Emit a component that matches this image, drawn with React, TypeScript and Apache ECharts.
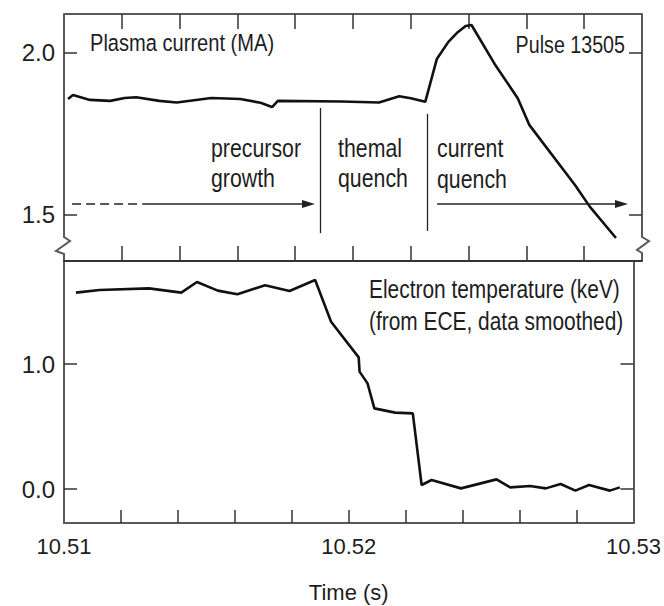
import React, { useEffect, useRef } from "react";
import * as echarts from "echarts";

// Axis ticks and labels
const timeTicks = [10.512, 10.514, 10.516, 10.518, 10.52, 10.522, 10.524, 10.526, 10.528];
const timeLabels = [10.51, 10.52, 10.53];
const currentTicks = [1.5, 2.0];
const tempTicks = [0.0, 1.0];

// Plasma current (MA) against time (s)
const currentTime = [
  10.51014, 10.51031, 10.5109, 10.5116, 10.5121, 10.5125, 10.5133, 10.5139, 10.5151, 10.5161,
  10.5168, 10.5172, 10.5174, 10.5196, 10.5209, 10.5216, 10.522, 10.5225, 10.5229, 10.5233,
  10.5236, 10.5239, 10.5241, 10.5249, 10.5257, 10.5261, 10.5277, 10.5282, 10.5291,
];
const currentMA = [
  1.858, 1.87, 1.855, 1.852, 1.861, 1.863, 1.852, 1.847, 1.861, 1.858,
  1.846, 1.833, 1.852, 1.85, 1.847, 1.866, 1.86, 1.849, 1.981, 2.034,
  2.062, 2.083, 2.086, 1.966, 1.86, 1.778, 1.59, 1.525, 1.429,
];

// Electron temperature (keV) against time (s)
const tempTime = [
  10.51042, 10.51125, 10.51298, 10.51412, 10.51467, 10.5154, 10.51609, 10.51706, 10.51792, 10.51882,
  10.51938, 10.52035, 10.52038, 10.52066, 10.5209, 10.52163, 10.52225, 10.52256, 10.52291, 10.52394,
  10.52519, 10.52567, 10.52637, 10.52692, 10.52744, 10.52796, 10.52844, 10.52917, 10.52952,
];
const tempKeV = [
  1.571, 1.592, 1.605, 1.571, 1.656, 1.587, 1.558, 1.63, 1.584, 1.672,
  1.338, 1.053, 0.939, 0.845, 0.645, 0.611, 0.605, 0.032, 0.072, 0.005,
  0.077, 0.013, 0.024, 0.005, 0.04, -0.013, 0.032, -0.013, 0.013,
];

// Disruption phases (time in s, current-axis level in MA)
const precursorDashed = [10.51028, 10.51273];
const precursorArrow = [10.51273, 10.51846];
const currentQuenchArrow = [10.52291, 10.52929];
const arrowLevel = 1.534;
const phaseBoundaries = [10.51888, 10.52257];
const boundaryTop = [1.83, 1.812];
const boundaryBottom = [1.444, 1.451];

const FONT = "'Liberation Sans', Arial, Helvetica, sans-serif";
const NARROW = 0.82; // horizontal squeeze giving a narrow Helvetica look
const INK = "#1e1e1e";
const AXIS = "#5a5a5a";

const tickStyle = { color: "#333", width: 1.5 };

function App() {
  const ref = useRef<HTMLDivElement>(null);

  useEffect(() => {
    if (!ref.current) return;
    const chart = echarts.init(ref.current, undefined, { renderer: "svg" });

    const thin = { color: "#222", width: 1.3, type: "solid" as const };
    const arrowLine = { color: "#222", width: 1.5, type: "solid" as const };

    const xBase = {
      type: "value" as const,
      min: 10.51,
      max: 10.53,
      splitLine: { show: false },
    };

    const text = (t: string, x: number, y: number, size: number, align = "left") => ({
      type: "text",
      silent: true,
      x,
      y,
      scaleX: NARROW,
      style: {
        text: t,
        x: 0,
        y: 0,
        fill: INK,
        fontSize: size,
        fontFamily: FONT,
        align,
        verticalAlign: "middle",
      },
    });

    const option: any = {
      animation: false,
      backgroundColor: "#fff",
      grid: [
        { left: 64, top: 14, width: 578, height: 247 },
        { left: 64, top: 261, width: 578, height: 262 },
      ],
      xAxis: [
        {
          ...xBase,
          gridIndex: 0,
          position: "bottom",
          axisLine: { show: true, onZero: false, lineStyle: { color: "#333", width: 2 } },
          axisTick: { show: true, inside: true, length: 15, customValues: timeTicks, lineStyle: tickStyle },
          axisLabel: { show: false },
        },
        {
          ...xBase,
          gridIndex: 0,
          position: "top",
          axisLine: { show: true, onZero: false, lineStyle: { color: AXIS, width: 2 } },
          axisTick: { show: true, inside: true, length: 15, customValues: timeTicks, lineStyle: tickStyle },
          axisLabel: { show: false },
        },
        {
          ...xBase,
          gridIndex: 1,
          position: "top",
          axisLine: { show: true, onZero: false, lineStyle: { color: "#333", width: 2 } },
          axisTick: { show: false },
          axisLabel: { show: false },
        },
        {
          ...xBase,
          gridIndex: 1,
          position: "bottom",
          axisLine: { show: true, onZero: false, lineStyle: { color: AXIS, width: 2 } },
          axisTick: { show: true, inside: true, length: 13, customValues: timeTicks, lineStyle: tickStyle },
          axisLabel: {
            show: true,
            customValues: timeLabels,
            formatter: (v: number) => v.toFixed(2),
            color: INK,
            fontSize: 22,
            fontFamily: FONT,
            margin: 12,
          },
          name: "Time (s)",
          nameLocation: "middle",
          nameGap: 58,
          nameTextStyle: { color: INK, fontSize: 22, fontFamily: FONT },
        },
      ],
      yAxis: [
        {
          type: "value",
          gridIndex: 0,
          position: "left",
          min: 1.358,
          max: 2.12,
          splitLine: { show: false },
          axisLine: { show: false, onZero: false },
          axisTick: { show: true, inside: true, length: 13, customValues: currentTicks, lineStyle: tickStyle },
          axisLabel: {
            customValues: currentTicks,
            formatter: (v: number) => v.toFixed(1),
            color: INK,
            fontSize: 24,
            fontFamily: FONT,
            margin: 9,
          },
        },
        {
          type: "value",
          gridIndex: 0,
          position: "right",
          min: 1.358,
          max: 2.12,
          splitLine: { show: false },
          axisLine: { show: false, onZero: false },
          axisTick: { show: true, inside: true, length: 13, customValues: currentTicks, lineStyle: tickStyle },
          axisLabel: { show: false },
        },
        {
          type: "value",
          gridIndex: 1,
          position: "left",
          min: -0.272,
          max: 1.824,
          splitLine: { show: false },
          axisLine: { show: true, onZero: false, lineStyle: { color: AXIS, width: 2 } },
          axisTick: { show: true, inside: true, length: 13, customValues: tempTicks, lineStyle: tickStyle },
          axisLabel: {
            customValues: tempTicks,
            formatter: (v: number) => v.toFixed(1),
            color: INK,
            fontSize: 24,
            fontFamily: FONT,
            margin: 9,
          },
        },
        {
          type: "value",
          gridIndex: 1,
          position: "right",
          min: -0.272,
          max: 1.824,
          splitLine: { show: false },
          axisLine: { show: true, onZero: false, lineStyle: { color: AXIS, width: 2 } },
          axisTick: { show: true, inside: true, length: 13, customValues: tempTicks, lineStyle: tickStyle },
          axisLabel: { show: false },
        },
      ],
      series: [
        {
          name: "Plasma current",
          type: "line",
          xAxisIndex: 0,
          yAxisIndex: 0,
          data: currentTime.map((t, i) => [t, currentMA[i]]),
          symbol: "none",
          lineStyle: { color: "#111", width: 2.6 },
          markLine: {
            silent: true,
            symbol: ["none", "none"],
            label: { show: false },
            emphasis: { disabled: true },
            data: [
              [
                { coord: [precursorDashed[0], arrowLevel], lineStyle: { ...arrowLine, type: [9, 5] } },
                { coord: [precursorDashed[1], arrowLevel] },
              ],
              [
                { coord: [precursorArrow[0], arrowLevel], lineStyle: arrowLine },
                { coord: [precursorArrow[1], arrowLevel], symbol: "triangle", symbolSize: [8, 13] },
              ],
              [
                { coord: [currentQuenchArrow[0], arrowLevel], lineStyle: arrowLine },
                { coord: [currentQuenchArrow[1], arrowLevel], symbol: "triangle", symbolSize: [8, 13] },
              ],
              ...phaseBoundaries.map((t, i) => [
                { coord: [t, boundaryTop[i]], lineStyle: thin },
                { coord: [t, boundaryBottom[i]] },
              ]),
            ],
          },
        },
        {
          name: "Electron temperature",
          type: "line",
          xAxisIndex: 3,
          yAxisIndex: 2,
          data: tempTime.map((t, i) => [t, tempKeV[i]]),
          symbol: "none",
          lineStyle: { color: "#111", width: 2.6 },
        },
      ],
      graphic: [
        // upper panel side frames with axis-break zigzags
        {
          type: "polyline",
          silent: true,
          shape: { points: [[64, 14], [64, 237], [70, 241], [56, 251], [64, 254], [64, 261]] },
          style: { stroke: AXIS, lineWidth: 2, fill: "none" },
        },
        {
          type: "polyline",
          silent: true,
          shape: { points: [[642, 14], [642, 237], [649, 241], [637, 250], [642, 253], [642, 261]] },
          style: { stroke: AXIS, lineWidth: 2, fill: "none" },
        },
        text("Plasma current (MA)", 90, 42.5, 24.5),
        text("Pulse 13505", 625, 45, 24, "right"),
        text("precursor", 211, 148, 26),
        text("growth", 211, 178, 26),
        text("themal", 338, 148, 26),
        text("quench", 338, 178, 26),
        text("current", 437, 148, 26),
        text("quench", 437, 179, 26),
        text("Electron temperature (keV)", 369, 289, 25.5),
        text("(from ECE, data smoothed)", 369, 321, 25.5),
      ],
    };

    chart.setOption(option);
    return () => chart.dispose();
  }, []);

  return (
    <div
      ref={ref}
      style={{ position: "absolute", left: 0, top: 0, width: 664, height: 606, background: "#fff" }}
    />
  );
}

export default App;
